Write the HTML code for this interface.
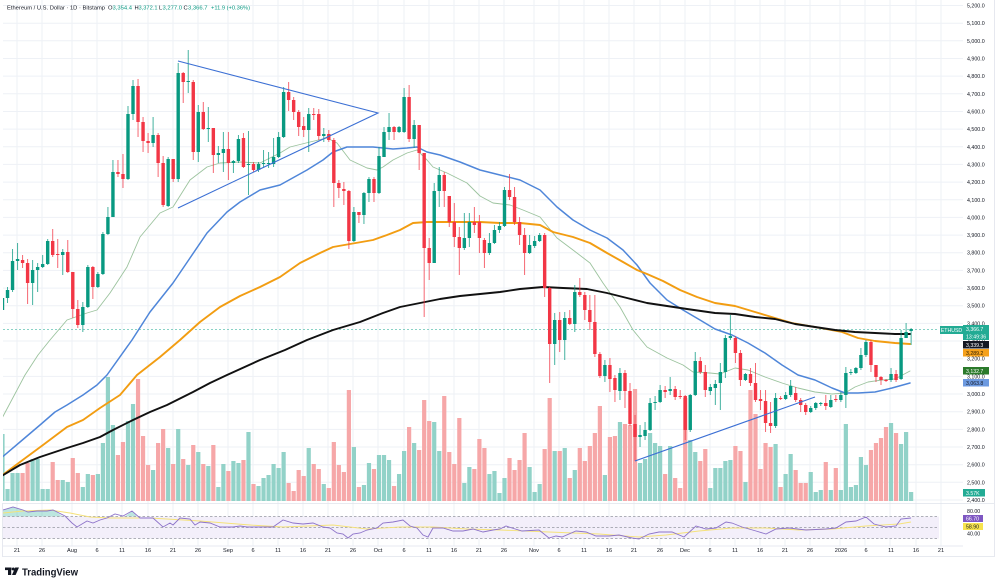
<!DOCTYPE html>
<html><head><meta charset="utf-8"><style>
html,body{margin:0;padding:0;background:#fff;}
body{width:999px;height:585px;overflow:hidden;}
svg{display:block;font-family:"Liberation Sans",sans-serif;}
</style></head><body>
<svg width="999" height="585" viewBox="0 0 999 585" xmlns="http://www.w3.org/2000/svg">
<defs><clipPath id="cp"><rect x="3" y="0" width="936" height="503"/></clipPath>
<clipPath id="cr"><rect x="3" y="503" width="936" height="43"/></clipPath></defs>
<rect width="999" height="585" fill="#fff"/>
<!-- grid -->
<g stroke="#eef1f6" stroke-width="1">
<path d="M17 0V546M42 0V546M72 0V546M97 0V546M122 0V546M148 0V546M173 0V546M198 0V546M228 0V546M253 0V546M278 0V546M303 0V546M328 0V546M353 0V546M378 0V546M404 0V546M429 0V546M454 0V546M479 0V546M504 0V546M534 0V546M559 0V546M584 0V546M609 0V546M634 0V546M660 0V546M685 0V546M710 0V546M735 0V546M760 0V546M785 0V546M810 0V546M840 0V546M865 0V546M890 0V546M916 0V546M941 0V546"/>
<path d="M3 5.5H963M3 23.2H963M3 40.8H963M3 58.5H963M3 76.1H963M3 93.8H963M3 111.5H963M3 129.1H963M3 146.8H963M3 164.4H963M3 182.1H963M3 199.8H963M3 217.4H963M3 235.1H963M3 252.7H963M3 270.4H963M3 288.1H963M3 305.7H963M3 323.4H963M3 341H963M3 358.7H963M3 376.4H963M3 394H963M3 411.7H963M3 429.4H963M3 447H963M3 464.7H963M3 482.3H963M3 500H963"/>
</g>
<!-- header -->
<g font-size="5.8">
<text x="7" y="9.3" fill="#131722" textLength="98" lengthAdjust="spacingAndGlyphs">Ethereum / U.S. Dollar · 1D · Bitstamp</text>
<text x="108" y="9.3" fill="#131722">O</text><text x="112.5" y="9.3" fill="#089981" textLength="19.5" lengthAdjust="spacingAndGlyphs">3,354.4</text>
<text x="134.5" y="9.3" fill="#131722">H</text><text x="138.5" y="9.3" fill="#089981" textLength="19" lengthAdjust="spacingAndGlyphs">3,372.1</text>
<text x="159" y="9.3" fill="#131722">L</text><text x="162.5" y="9.3" fill="#089981" textLength="19.5" lengthAdjust="spacingAndGlyphs">3,277.0</text>
<text x="183.5" y="9.3" fill="#131722">C</text><text x="188" y="9.3" fill="#089981" textLength="19.5" lengthAdjust="spacingAndGlyphs">3,366.7</text>
<text x="211" y="9.3" fill="#089981" textLength="39" lengthAdjust="spacingAndGlyphs">+11.9 (+0.36%)</text>
</g>
<g clip-path="url(#cp)">
<!-- volume -->
<g transform="translate(2.5 0) scale(5.02 1)" fill="none" stroke-width="4.2">
<path vector-effect="non-scaling-stroke" stroke="#92d2c8" d="M0 501V434M1 501V489M2 501V473M3 501V473M6 501V459M7 501V459M8 501V489M9 501V489M12 501V480M13 501V482M16 501V487M17 501V474M19 501V474M20 501V443M21 501V377M22 501V425M25 501V421M26 501V404M30 501V470M33 501V448M35 501V429M37 501V465M39 501V452M41 501V466M43 501V487M44 501V464M46 501V461M47 501V463M49 501V432M51 501V486M52 501V478M53 501V475M54 501V464M55 501V468M56 501V452M61 501V448M64 501V484M70 501V447M72 501V485M73 501V463M75 501V455M76 501V455M77 501V460M79 501V474M80 501V451M82 501V443M86 501V422M87 501V451M92 501V483M93 501V467M97 501V474M98 501V471M99 501V493M100 501V478M105 501V467M106 501V492M107 501V484M110 501V451M112 501V448M114 501V470M120 501V475M123 501V422M127 501V463M128 501V459M129 501V433M130 501V443M131 501V446M133 501V446M137 501V440M138 501V452M141 501V488M142 501V468M143 501V468M144 501V461M145 501V460M148 501V482M154 501V444M156 501V474M157 501V454M161 501V472M162 501V492M163 501V490M165 501V490M167 501V490M168 501V424M169 501V487M170 501V485M171 501V457M172 501V465M177 501V423M179 501V444M180 501V432M181 501V492"/>
<path vector-effect="non-scaling-stroke" stroke="#f6a7a8" d="M4 501V473M5 501V463M10 501V462M11 501V480M14 501V458M15 501V473M18 501V475M23 501V455M24 501V442M27 501V379M28 501V436M29 501V465M31 501V443M32 501V429M34 501V464M36 501V459M38 501V445M40 501V464M42 501V445M45 501V471M48 501V460M50 501V484M57 501V483M58 501V491M59 501V470M60 501V476M62 501V464M63 501V469M65 501V488M66 501V442M67 501V465M68 501V472M69 501V390M71 501V487M74 501V469M78 501V486M81 501V427M83 501V450M84 501V400M85 501V421M88 501V396M89 501V452M90 501V464M91 501V418M94 501V469M95 501V439M96 501V448M101 501V458M102 501V470M103 501V460M104 501V433M108 501V449M109 501V398M111 501V451M113 501V478M115 501V448M116 501V461M117 501V446M118 501V433M119 501V406M121 501V437M122 501V436M124 501V424M125 501V425M126 501V389M132 501V474M134 501V478M135 501V488M136 501V398M139 501V461M140 501V449M146 501V446M147 501V451M149 501V390M150 501V414M151 501V469M152 501V443M153 501V447M155 501V487M158 501V470M159 501V483M160 501V483M164 501V462M166 501V468M173 501V450M174 501V443M175 501V438M176 501V427M178 501V433"/>
</g>
<!-- price line -->
<path d="M3 329.5H939" stroke="#22ab94" stroke-width="0.8" stroke-dasharray="2 2" opacity="0.7"/>
<!-- moving averages -->
<g fill="none" stroke-linejoin="round" stroke-linecap="round">
<polyline stroke="#9cc39e" stroke-width="0.9" points="0,422 25,375 38,355 50,340 67,320 87,313 97,310 110,293 127,267 140,237 160,213 173,207 190,180 207,167 220,163 240,162 260,163 280,153 290,147 310,142 327,138 337,143 350,160 367,168 377,170 383,167 393,160 407,153 417,150 427,160 433,167 447,173 467,183 480,196 493,203 510,205 523,210 540,217 557,238 573,250 590,263 603,283 620,307 633,330 647,347 667,358 683,365 693,372 710,373 720,374 735,368 748,370 765,377 782,383 798,388 815,392 832,394 845,393 855,387 868,382 882,380 895,379 910,371"/>
<polyline stroke="#4f86d9" stroke-width="1.5" points="0,459 20,442 40,425 55,412 67,405 83,395 97,385 107,375 132,340 150,312 173,283 190,258 207,233 227,212 240,202 260,190 280,185 307,170 323,160 333,152 347,147 360,147 373,147 393,149 407,148 417,147 427,152 440,155 460,162 480,170 500,175 520,180 540,190 557,207 573,220 590,230 607,238 623,250 637,265 650,283 667,300 683,310 700,320 715,329 732,335 748,343 765,353 782,365 798,375 815,380 832,388 845,393 858,393 875,392 892,388 910,383"/>
<polyline stroke="#f29d12" stroke-width="1.9" points="0,477 20,462 43,445 67,427 83,420 100,408 120,395 137,375 160,357 180,340 200,322 220,307 240,296 260,287 280,277 300,263 320,253 333,247 350,244 373,240 387,235 400,230 413,223 427,222 447,222 467,222 480,222 500,223 520,223 540,225 553,232 573,237 590,243 607,253 623,262 637,270 647,274 663,281 680,290 697,297 715,303 735,306 755,312 775,318 792,323 815,327 842,332 858,338 875,341 895,343 910,344"/>
<polyline stroke="#111" stroke-width="1.9" points="0,477 20,465 40,457 67,448 83,443 100,437 113,430 133,420 150,412 167,405 177,400 193,392 210,383 227,375 260,360 285,350 307,340 333,330 360,322 383,313 400,307 420,303 440,299 460,296 480,294 500,292 520,289 543,287 563,288 587,289 607,293 627,298 647,303 667,306 687,309 715,313 735,314 755,317 775,319 795,324 815,327 835,330 855,332 875,333 895,334 910,334"/>
</g>
<!-- candles -->
<g transform="translate(2.5 0) scale(5.02 1)" fill="none">
<path vector-effect="non-scaling-stroke" stroke="#089981" stroke-width="1" opacity="0.75" d="M0 296V312M1 287V303M2 249V292M3 243V270M6 260V305M7 263V292M8 255V268M9 239V265M12 249V275M16 302V332M17 265V308M19 272V288M20 232V275M21 207V235M22 160V217M25 106V180M26 80V120M30 117V147M33 157V207M35 63V182M37 50V93M39 105V162M41 107V142M43 146V163M44 132V172M46 160V173M47 135V163M49 131V195M51 162V172M52 150V168M53 152V168M54 138V167M55 132V158M56 87V138M61 108V152M64 128V142M70 207V242M72 192V224M73 177V202M75 147V194M76 127V157M77 113V140M79 126V133M80 88V133M82 120V148M86 183V263M87 167V207M92 213V250M93 213V247M97 233V255M98 225V244M99 222V233M100 187V227M105 235V254M106 236V248M107 233V242M110 313V365M112 312V360M114 285V332M120 360V382M123 368V400M127 425V447M128 422V440M129 398V431M130 396V410M131 385V403M133 377V395M137 394V432M138 352V396M141 384V395M142 380V405M143 363V410M144 335V378M145 315V340M148 373V381M154 393V428M156 392V400M157 380V397M161 406V413M162 402V410M163 402V406M165 395V408M167 392V402M168 367V408M169 369V375M170 367V374M171 348V370M172 340V357M177 368V382M179 330V380M180 323V338M181 328V345"/>
<path vector-effect="non-scaling-stroke" stroke="#f23645" stroke-width="1" opacity="0.75" d="M4 255V268M5 259V304M10 229V257M11 239V268M13 240V273M14 272V318M15 300V328M18 266V299M23 160V177M24 154V188M27 79V137M28 117V152M29 133V153M31 133V177M32 156V207M34 159V182M36 72V103M38 80V160M40 102V130M42 128V173M45 132V180M48 133V168M50 162V172M57 82V111M58 97V120M59 110V136M60 117V137M62 108V120M63 109V140M65 130V142M66 138V207M67 180V198M68 182V205M69 190V249M71 212V223M74 177V202M78 126V140M81 85V142M83 125V170M84 153V317M85 238V280M88 172V207M89 196V227M90 203V247M91 227V275M94 207V233M95 215V253M96 238V268M101 174V200M102 187V225M103 217V245M104 228V275M108 233V297M109 287V383M111 312V352M113 310V325M115 278V297M116 292V320M117 295V330M118 295V357M119 352V378M121 358V392M122 375V402M124 370V408M125 383V426M126 415V461M132 386V398M134 386V400M135 390V399M136 395V440M139 357V374M140 365V397M146 336V363M147 350V386M149 368V386M150 363V402M151 390V410M152 390V432M153 402V433M155 396V400M158 387V402M159 398V412M160 403V415M164 395V410M166 395V402M173 340V372M174 365V382M175 376V385M176 379V382M178 370V382"/>
<path vector-effect="non-scaling-stroke" stroke="#089981" stroke-width="3.4" d="M0 298V310M1 290V298M2 261V290M3 259V261M6 270V283M7 267V270M8 264V267M9 241V264M12 252V255M16 307V325M17 267V307M19 274V287M20 234V274M21 217V234M22 172V217M25 114V179M26 86V114M30 135V143M33 159V206M35 73V179M37 81V82M39 112V152M41 128V129M43 153V155M44 149V153M46 161V163M47 139V161M49 164V165M51 164V170M52 163V164M53 163V164M54 157V164M55 137V157M56 92V137M61 114V130M64 134V136M70 212V241M72 193V215M73 179V193M75 156V193M76 132V157M77 127V132M79 127V132M80 97V132M82 125V139M86 191V263M87 175V191M92 238V248M93 222V238M97 243V253M98 230V243M99 226V230M100 190V226M105 245V253M106 241V246M107 235V241M110 320V344M112 318V340M114 292V324M120 365V376M123 373V391M127 435V437M128 430V436M129 403V430M130 402V403M131 390V402M133 389V391M137 395V430M138 361V395M141 387V391M142 384V388M143 372V383M144 338V372M145 336V338M148 374V380M154 398V426M156 395V399M157 386V395M161 408V412M162 403V408M163 403V404M165 400V407M167 395V400M168 373V395M169 372V373M170 368V373M171 355V368M172 342V355M177 374V380M179 338V379M180 332V338M181 329V331"/>
<path vector-effect="non-scaling-stroke" stroke="#f23645" stroke-width="3.4" d="M4 260V263M5 263V283M10 241V255M11 254V255M13 252V272M14 272V309M15 309V325M18 267V287M23 172V174M24 174V179M27 86V122M28 122V141M29 141V143M31 135V163M32 163V205M34 159V179M36 73V82M38 82V152M40 112V129M42 128V155M45 149V163M48 138V167M50 164V170M57 92V100M58 100V112M59 112V127M60 126V130M62 114V115M63 114V136M65 134V140M66 140V183M67 183V188M68 189V191M69 191V241M71 212V215M74 179V193M78 127V132M81 97V139M83 125V153M84 153V248M85 248V263M88 175V191M89 196V222M90 222V237M91 237V248M94 222V225M95 222V238M96 240V253M101 190V197M102 197V222M103 222V235M104 235V253M108 235V288M109 288V344M111 320V340M113 318V324M115 292V295M116 295V310M117 310V322M118 322V354M119 354V376M121 365V379M122 378V390M124 373V391M125 391V424M126 424V437M132 390V392M134 389V397M135 396V397M136 396V430M139 361V372M140 372V390M146 338V353M147 353V380M149 374V383M150 383V400M151 399V401M152 401V423M153 423V426M155 398V399M158 393V400M159 400V405M160 405V412M164 403V406M166 399V400M173 342V365M174 365V377M175 377V380M176 380V381M178 374V380"/>
</g>
<!-- trendlines -->
<g stroke="#3b6fd4" stroke-width="1.1" fill="none">
<path d="M178 61L378 113L178 208"/>
<path d="M635 461L815 397"/>
</g>
</g>
<!-- RSI pane -->
<g clip-path="url(#cr)">
<rect x="3" y="516.5" width="936" height="22" fill="#f3effa"/>
<polygon points="3,516.5 3,510 13,507 23,510 28,512 37,511 47,511 53,510 63,516.5" fill="#22ab94" opacity="0.3"/>
<polygon points="125,516.5 132,511 137,516.5" fill="#22ab94" opacity="0.3"/>
<g stroke="#9598a1" stroke-width="0.7" stroke-dasharray="2.5 2">
<path d="M3 516.5H939M3 527.5H939M3 538.5H939"/>
</g>
<polyline fill="none" stroke="#f5e27a" stroke-width="0.9" points="3,513 23,511 50,510 70,513 90,517 110,518 150,518 200,521 250,525 283,527 333,525 367,529 400,527 433,527 467,529 500,530 549,532 599,534 639,537 666,535 699,531 732,528 766,528 799,530 832,529 866,526 899,524 911,522"/>
<polyline fill="none" stroke="#8d73c9" stroke-width="0.9" points="3,510 13,507 23,510 28,512 37,511 47,511 53,510 65,516 72,523 77,527 87,521 93,523 100,520 107,518 115,514 123,516 132,511 140,518 153,518 163,527 170,523 173,525 180,518 190,519 195,525 200,522 210,523 220,527 233,527 240,526 247,527 267,527 273,527 283,520 293,523 303,524 313,523 323,527 330,528 337,533 343,534 348,538 353,534 360,533 367,530 377,528 383,523 393,522 403,520 410,526 417,528 423,535 428,537 433,528 443,528 453,531 463,531 473,529 483,532 493,530 500,529 506,526 512,528 522,531 539,530 549,538 556,536 562,537 576,531 586,532 596,536 609,536 619,535 632,538 639,539 649,534 659,532 672,532 684,537 696,526 706,529 716,528 726,522 732,523 742,527 756,531 766,534 776,529 789,528 806,530 826,529 836,528 846,522 856,521 866,517 874,524 886,527 896,526 901,519 911,518"/>
</g>
<!-- frame lines -->
<g stroke="#e0e3eb" stroke-width="0.8" fill="none">
<path d="M3 503.5H994M3 546H963M3 556.5H994M994.5 0V557M2.5 503V557"/>
</g>
<!-- price axis labels -->
<g font-size="5.3" fill="#131722">
<text x="967" y="7.5">5,200.0</text><text x="967" y="25.2">5,100.0</text><text x="967" y="42.8">5,000.0</text><text x="967" y="60.5">4,900.0</text><text x="967" y="78.1">4,800.0</text><text x="967" y="95.8">4,700.0</text><text x="967" y="113.5">4,600.0</text><text x="967" y="131.1">4,500.0</text><text x="967" y="148.8">4,400.0</text><text x="967" y="166.4">4,300.0</text><text x="967" y="184.1">4,200.0</text><text x="967" y="201.8">4,100.0</text><text x="967" y="219.4">4,000.0</text><text x="967" y="237.1">3,900.0</text><text x="967" y="254.7">3,800.0</text><text x="967" y="272.4">3,700.0</text><text x="967" y="290.1">3,600.0</text><text x="967" y="307.7">3,500.0</text><text x="967" y="325.4">3,400.0</text><text x="967" y="343">3,300.0</text><text x="967" y="360.7">3,200.0</text><text x="967" y="378.4">3,100.0</text><text x="967" y="396">3,000.0</text><text x="967" y="413.7">2,900.0</text><text x="967" y="431.4">2,800.0</text><text x="967" y="449">2,700.0</text><text x="967" y="466.7">2,600.0</text><text x="967" y="484.3">2,500.0</text><text x="967" y="502">2,400.0</text>
<text x="967" y="513">80.00</text><text x="967" y="535.5">40.00</text>
</g>
<!-- tags -->
<g font-size="5.2">
<rect x="940" y="326" width="23" height="8" fill="#22ab94"/><text x="951.5" y="332.2" fill="#fff" text-anchor="middle">ETHUSD</text>
<rect x="963" y="325" width="26" height="15" fill="#22ab94"/><text x="966" y="331" fill="#fff">3,366.7</text><text x="966" y="338.3" fill="#fff">13:49:36</text>
<rect x="963" y="341" width="26" height="7.5" fill="#131722"/><text x="966" y="346.9" fill="#fff">3,339.3</text>
<rect x="963" y="349" width="26" height="7.5" fill="#f5a11c"/><text x="966" y="354.9" fill="#2a1c00">3,289.2</text>
<rect x="963" y="367" width="26" height="7.5" fill="#2b7a2b"/><text x="966" y="372.9" fill="#fff">3,132.7</text>
<rect x="963" y="379" width="26" height="7.5" fill="#6d9ae0"/><text x="966" y="384.9" fill="#131722">3,063.8</text>
<rect x="963" y="489" width="22" height="7.5" fill="#22ab94"/><text x="966" y="494.9" fill="#fff">3.57K</text>
<rect x="963" y="515" width="20" height="7" fill="#7e57c2"/><text x="966" y="520.5" fill="#fff">66.70</text>
<rect x="963" y="523" width="20" height="7" fill="#f7e34f"/><text x="966" y="528.5" fill="#131722">58.90</text>
</g>
<!-- date axis -->
<g font-size="5.6" fill="#131722" text-anchor="middle">
<text x="17" y="552">21</text><text x="42" y="552">26</text><text x="72" y="552">Aug</text><text x="97" y="552">6</text><text x="122" y="552">11</text><text x="148" y="552">16</text><text x="173" y="552">21</text><text x="198" y="552">26</text><text x="228" y="552">Sep</text><text x="253" y="552">6</text><text x="278" y="552">11</text><text x="303" y="552">16</text><text x="328" y="552">21</text><text x="353" y="552">26</text><text x="378" y="552">Oct</text><text x="404" y="552">6</text><text x="429" y="552">11</text><text x="454" y="552">16</text><text x="479" y="552">21</text><text x="504" y="552">26</text><text x="534" y="552">Nov</text><text x="559" y="552">6</text><text x="584" y="552">11</text><text x="609" y="552">16</text><text x="634" y="552">21</text><text x="660" y="552">26</text><text x="685" y="552">Dec</text><text x="710" y="552">6</text><text x="735" y="552">11</text><text x="760" y="552">16</text><text x="785" y="552">21</text><text x="810" y="552">26</text><text x="841" y="552">2026</text><text x="866" y="552">6</text><text x="891" y="552">11</text><text x="916" y="552">16</text><text x="941" y="552">21</text>
</g>
<!-- logo -->
<g fill="#131722">
<rect x="5" y="567.5" width="6.5" height="2.6"/><rect x="8" y="567.5" width="3.2" height="7.5"/>
<circle cx="13.3" cy="569" r="1.5"/>
<polygon points="15.2,567.5 19,567.5 15.6,575 12,575"/>
<text x="22" y="575.5" font-size="10" font-weight="bold" textLength="56" lengthAdjust="spacingAndGlyphs">TradingView</text>
</g>
</svg>
</body></html>
